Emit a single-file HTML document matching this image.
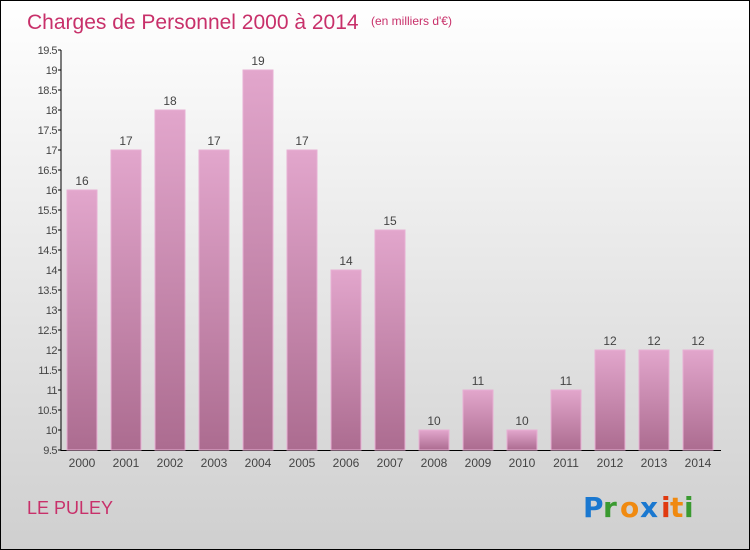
<!DOCTYPE html>
<html><head><meta charset="utf-8"><style>
body{margin:0}
#c{width:748px;height:548px;border:1px solid #000;background:linear-gradient(#fff,#cfcfcf);position:relative;overflow:hidden;font-family:"Liberation Sans",sans-serif}
</style></head><body>
<div id="c">
<svg width="748" height="548">
<defs><linearGradient id="g" x1="0" y1="0" x2="0" y2="1"><stop offset="0" stop-color="#e2a6cc"/><stop offset="1" stop-color="#ac6c90"/></linearGradient></defs>
<text x="26" y="28" font-size="21" fill="#c8306a">Charges de Personnel 2000 à 2014</text>
<text x="370" y="24" font-size="12" fill="#c8306a">(en milliers d'€)</text>
<text x="26" y="513" font-size="18" fill="#c8306a">LE PULEY</text>
<g font-size="28" font-weight="bold" font-family="'DejaVu Sans',sans-serif">
<text x="582" y="516" fill="#1a78d0">P</text><text x="602" y="516" fill="#3a9a30">r</text><text x="619" y="516" fill="#f08a10">o</text><text x="639" y="516" fill="#1a78d0">x</text><text x="660" y="516" fill="#e03a10">i</text><text x="669" y="516" fill="#f08a10">t</text><text x="683" y="516" fill="#3a9a30">i</text></g>
<g id="ax"></g><g id="bars"></g>
</svg></div>
<script>
const years=["2000","2001","2002","2003","2004","2005","2006","2007","2008","2009","2010","2011","2012","2013","2014"];
const values=[16,17,18,17,19,17,14,15,10,11,10,11,12,12,12];
const yTicks=[9.5,10,10.5,11,11.5,12,12.5,13,13.5,14,14.5,15,15.5,16,16.5,17,17.5,18,18.5,19,19.5];
const ns="http://www.w3.org/2000/svg";
const y=v=>449-(v-9.5)*40, x=i=>81+44*i;
function mk(t,a,p){const e=document.createElementNS(ns,t);for(const k in a)e.setAttribute(k,a[k]);p.appendChild(e);return e;}
const ax=document.getElementById('ax'),bars=document.getElementById('bars');
let l=mk('line',{x1:60,y1:49,x2:60,y2:450,stroke:'#000'},ax);


l=mk('line',{x1:60,y1:449.5,x2:720,y2:449.5,stroke:'#000'},ax);


yTicks.forEach(v=>{mk('line',{x1:57,x2:60,y1:y(v),y2:y(v),stroke:'#000'},ax);
const t=mk('text',{x:56,y:y(v)+4,'text-anchor':'end','font-size':11,fill:'#444','letter-spacing':'-0.5'},ax);t.textContent=v;

});
values.forEach((v,i)=>{const r=mk('rect',{x:x(i)-15,y:y(v),width:30,height:449-y(v),fill:'url(#g)',stroke:'#e8b0d4','stroke-width':1},bars);


const t=mk('text',{x:x(i),y:y(v)-5,'text-anchor':'middle','font-size':12,fill:'#444'},bars);t.textContent=v;


const yl=mk('text',{x:x(i),y:466,'text-anchor':'middle','font-size':12,fill:'#444'},bars);yl.textContent=years[i];

});
</script></body></html>
